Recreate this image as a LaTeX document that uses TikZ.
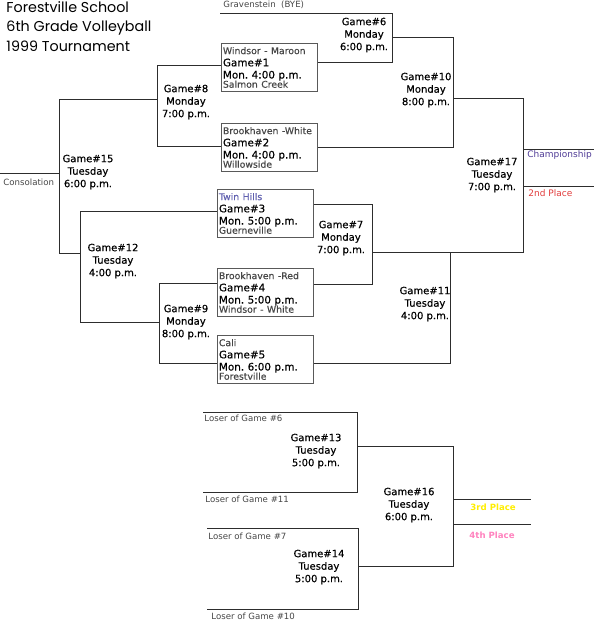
\documentclass[tikz,border=0pt]{standalone}
\usepackage{fontspec}
\setmainfont{DejaVu Sans}
\newfontfamily\titlefont{Poppins}
\newfontfamily\gamefont{DejaVu Sans}[FakeBold=0.35]
\usetikzlibrary{positioning}

\definecolor{champcol}{RGB}{80,60,150}
\definecolor{secondcol}{RGB}{225,60,60}
\definecolor{thirdcol}{RGB}{255,238,0}
\definecolor{fourthcol}{RGB}{255,130,190}
\definecolor{twincol}{RGB}{95,95,175}
\definecolor{linecol}{RGB}{45,45,45}
\definecolor{teamcol}{RGB}{70,70,70}

\newcommand{\teamtxt}{\fontsize{9.3}{11}\selectfont\color{teamcol}}

\begin{document}
\begin{tikzpicture}[
  x=1pt, y=-1pt,
  line width=0.9pt,
  bracket/.style={draw=linecol},
  gametxt/.style={align=center, font=\gamefont\fontsize{10}{12.5}\selectfont, inner sep=0pt},
  gamebox/.style={draw=black!65, align=left, text width=93pt, minimum height=48pt,
    inner xsep=1.5pt, inner ysep=2pt, anchor=north west, font=\gamefont\fontsize{10.4}{12.2}\selectfont},
  smalltxt/.style={font=\fontsize{8.6}{10}\selectfont, text=teamcol, anchor=base west, inner sep=0pt},
  placetxt/.style={font=\fontsize{9}{10}\selectfont, anchor=base west, inner sep=0pt}
  ]
  \useasboundingbox (0,0) rectangle (594,621);

  % --- title ---
  \node [anchor=north west, align=left, inner sep=0pt,
    font=\titlefont\fontsize{14.3}{19.5}\selectfont] (title) at (6,1)
    {Forestville School\\6th Grade Volleyball\\1999 Tournament};

  % --- first round boxes ---
  \node [gamebox] (g1) at (221,43) {\mbox{\teamtxt Windsor - Maroon}\\ Game\#1\\ Mon.\ 4:00 p.m.\\[-3pt] \mbox{\teamtxt Salmon Creek}};
  \node [gamebox] (g2) at (221,123) {\mbox{\teamtxt Brookhaven -White}\\ Game\#2\\ Mon.\ 4:00 p.m.\\[-3pt] \mbox{\teamtxt Willowside}};
  \node [gamebox] (g3) at (217,189) {\mbox{\teamtxt\color{twincol} Twin Hills}\\ Game\#3\\ Mon.\ 5:00 p.m.\\[-3pt] \mbox{\teamtxt Guerneville}};
  \node [gamebox] (g4) at (217,268) {\mbox{\teamtxt Brookhaven -Red}\\ Game\#4\\ Mon.\ 5:00 p.m.\\[-3pt] \mbox{\teamtxt Windsor - White}};
  \node [gamebox] (g5) at (217,335) {\mbox{\teamtxt Cali}\\ Game\#5\\ Mon.\ 6:00 p.m.\\[-3pt] \mbox{\teamtxt Forestville}};

  % --- game labels ---
  \node [gametxt] (g6) at (364,35) {Game\#6\\Monday\\6:00 p.m.};
  \node [gametxt] (g10) at (426,90) {Game\#10\\Monday\\8:00 p.m.};
  \node [gametxt] (g17) at (492,175) {Game\#17\\Tuesday\\7:00 p.m.};
  \node [gametxt] (g8) at (186,102) {Game\#8\\Monday\\7:00 p.m.};
  \node [gametxt] (g15) at (88,172) {Game\#15\\Tuesday\\6:00 p.m.};
  \node [gametxt] (g12) at (113,261) {Game\#12\\Tuesday\\4:00 p.m.};
  \node [gametxt] (g9) at (186,322) {Game\#9\\Monday\\8:00 p.m.};
  \node [gametxt] (g7) at (341,238) {Game\#7\\Monday\\7:00 p.m.};
  \node [gametxt] (g11) at (425,304) {Game\#11\\Tuesday\\4:00 p.m.};
  \node [gametxt] (g13) at (316,451) {Game\#13\\Tuesday\\5:00 p.m.};
  \node [gametxt] (g14) at (319,567) {Game\#14\\Tuesday\\5:00 p.m.};
  \node [gametxt] (g16) at (409,505) {Game\#16\\Tuesday\\6:00 p.m.};

  % --- bracket corners ---
  \coordinate (bye) at (220,13);
  \coordinate (b6t) at (392,13);   \coordinate (b6b) at (392,62);
  \coordinate (b10t) at (453,37);  \coordinate (b10b) at (453,147);
  \coordinate (b17t) at (523,98);  \coordinate (b17b) at (523,252);
  \coordinate (champ) at (594,149); \coordinate (second) at (594,186);
  \coordinate (b8t) at (157,65);   \coordinate (b8b) at (157,146);
  \coordinate (b15t) at (59,99);   \coordinate (b15b) at (59,253);
  \coordinate (cons) at (0,173);
  \coordinate (b12t) at (80,211);  \coordinate (b12b) at (80,322);
  \coordinate (b9t) at (159,283);  \coordinate (b9b) at (159,363);
  \coordinate (b7t) at (372,204);  \coordinate (b7b) at (372,284);
  \coordinate (b11t) at (450,252); \coordinate (b11b) at (450,363);
  \coordinate (l6) at (203,412);   \coordinate (l11) at (203,492);
  \coordinate (l7) at (207,528);   \coordinate (l10) at (207,609);
  \coordinate (b13t) at (357,412); \coordinate (b13b) at (357,492);
  \coordinate (b14t) at (358,528); \coordinate (b14b) at (358,609);
  \coordinate (b16t) at (453,446); \coordinate (b16b) at (453,566);
  \coordinate (third) at (531,499); \coordinate (fourth) at (531,524);

  % --- upper bracket ---
  \draw [bracket] (bye) -- (b6t) -- (b6b) -- (g1.east |- b6b);
  \draw [bracket] (b6t |- b10t) -- (b10t) -- (b10b) -- (g2.east |- b10b);
  \draw [bracket] (b10t |- b17t) -- (b17t) -- (b17b) -- (b7t |- b17b);
  \draw [bracket] (b17t |- champ) -- (champ);
  \draw [bracket] (b17t |- second) -- (second);
  \draw [bracket] (g1.west |- b8t) -- (b8t) -- (b8b) -- (g2.west |- b8b);
  \draw [bracket] (b8t |- b15t) -- (b15t) -- (b15b) -- (b12t |- b15b);
  \draw [bracket] (cons) -- (b15t |- cons);
  \draw [bracket] (g3.west |- b12t) -- (b12t) -- (b12b) -- (b9t |- b12b);
  \draw [bracket] (g4.west |- b9t) -- (b9t) -- (b9b) -- (g5.west |- b9b);
  \draw [bracket] (g3.east |- b7t) -- (b7t) -- (b7b) -- (g4.east |- b7b);
  \draw [bracket] (b11t) -- (b11b) -- (g5.east |- b11b);

  % --- consolation bracket ---
  \draw [bracket] (l6) -- (b13t) -- (b13b) -- (l11);
  \draw [bracket] (l7) -- (b14t) -- (b14b) -- (l10);
  \draw [bracket] (b13t |- b16t) -- (b16t) -- (b16b) -- (b14t |- b16b);
  \draw [bracket] (b16t |- third) -- (third);
  \draw [bracket] (b16t |- fourth) -- (fourth);

  % --- small labels ---
  \node [smalltxt] (byetxt) at (223,8) {Gravenstein\ \ (BYE)};
  \node [smalltxt] (constxt) at (3,185) {Consolation};
  \node [placetxt, text=champcol] (champtxt) at (527,157) {Championship};
  \node [placetxt, text=secondcol] (secondtxt) at (528,196) {2nd Place};
  \node [placetxt, text=thirdcol, font=\bfseries\fontsize{8.6}{10}\selectfont] (thirdtxt) at (470,510) {3rd Place};
  \node [placetxt, text=fourthcol, font=\bfseries\fontsize{8.6}{10}\selectfont] (fourthtxt) at (469,538) {4th Place};
  \node [smalltxt] (l6txt) at (204,421) {Loser of Game \#6};
  \node [smalltxt] (l11txt) at (205,502) {Loser of Game \#11};
  \node [smalltxt] (l7txt) at (208,539) {Loser of Game \#7};
  \node [smalltxt] (l10txt) at (211,619) {Loser of Game \#10};

\end{tikzpicture}
\end{document}
